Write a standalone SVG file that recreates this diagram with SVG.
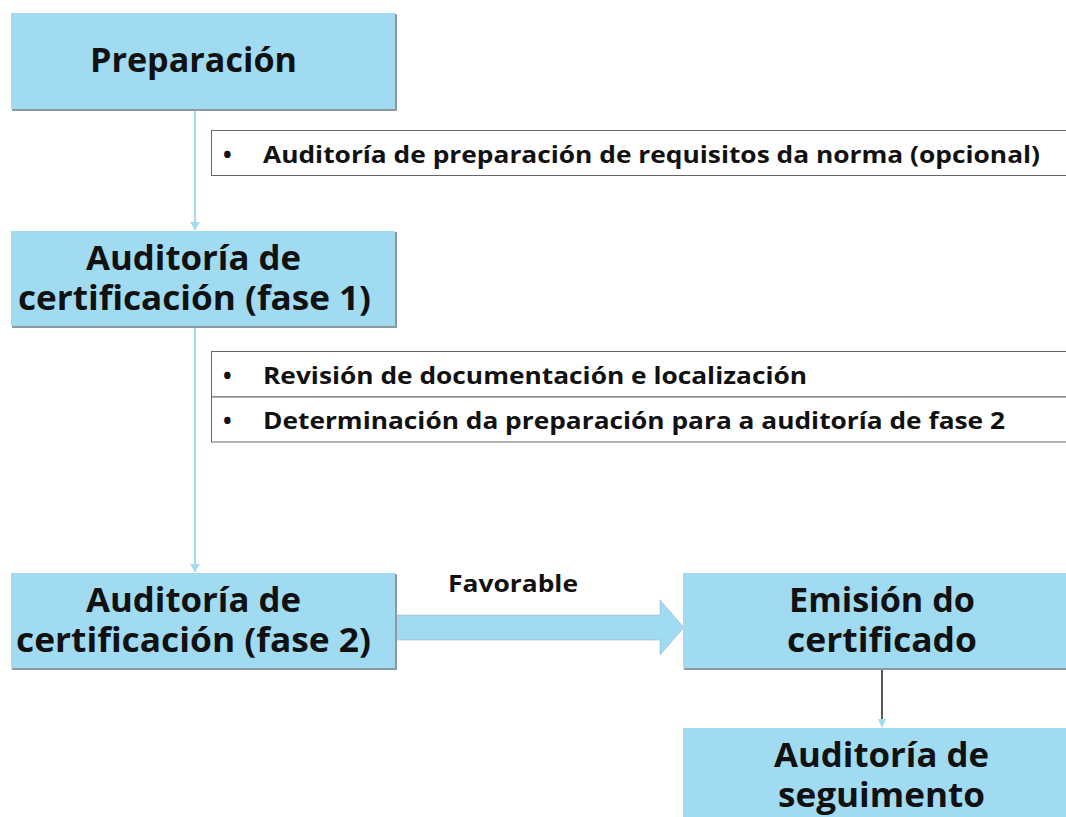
<svg xmlns="http://www.w3.org/2000/svg" width="1066" height="817" viewBox="0 0 1066 817">
<style>
.box{fill:#a0dbf1;}
.sh{fill:#8a9aa0;}
.t{font-family:"Open Sans","DejaVu Sans",sans-serif;font-weight:bold;font-size:34px;fill:#111;}
.b{font-family:"Open Sans","DejaVu Sans",sans-serif;font-weight:bold;font-size:23px;fill:#111;}
.note{fill:#fff;stroke:#666;stroke-width:1;}
.ln{stroke:#a0dbf1;stroke-width:2;fill:none;}
</style>
<defs>
<marker id="ah" markerWidth="10" markerHeight="10" refX="8" refY="5" orient="auto" markerUnits="userSpaceOnUse">
<path d="M0,0 L8,5 L0,10 Z" fill="#a0dbf1"/>
</marker>
</defs>
<g id="connectors">
<line class="ln" x1="195" y1="110" x2="195" y2="230" marker-end="url(#ah)"/>
<line class="ln" x1="195" y1="327" x2="195" y2="572" marker-end="url(#ah)"/>
<path d="M395,615 L660,615 L660,600 L684,627.5 L660,655 L660,640 L395,640 Z" fill="#a0dbf1" stroke="#9ab" stroke-width="0.5"/>
<line x1="882" y1="668" x2="882" y2="720" stroke="#222" stroke-width="1.5"/>
<path d="M878,719 L882,728 L886,719 Z" fill="#a0dbf1"/>
<text class="b" x="448" y="592" textLength="130" lengthAdjust="spacingAndGlyphs">Favorable</text>
</g>
<g id="n1">
<rect class="sh" x="12" y="14" width="385" height="97"/>
<rect class="box" x="11" y="13" width="384" height="96"/>
<text class="t" x="90" y="72" textLength="207" lengthAdjust="spacingAndGlyphs">Preparación</text>
</g>
<g id="note1">
<rect class="note" x="211.5" y="130.5" width="860" height="45"/>
<text class="b" x="223" y="163">•</text>
<text class="b" x="263" y="163" textLength="777" lengthAdjust="spacingAndGlyphs">Auditoría de preparación de requisitos da norma (opcional)</text>
</g>
<g id="n2">
<rect class="sh" x="12" y="232" width="385" height="96"/>
<rect class="box" x="11" y="231" width="384" height="95"/>
<text class="t" x="86" y="270" textLength="215" lengthAdjust="spacingAndGlyphs">Auditoría de</text>
<text class="t" x="18" y="310" textLength="353" lengthAdjust="spacingAndGlyphs">certificación (fase 1)</text>
</g>
<g id="note2">
<rect class="note" x="211.5" y="351.5" width="860" height="45.5"/>
<rect class="note" x="211.5" y="397" width="860" height="45"/>
<text class="b" x="223" y="384">•</text>
<text class="b" x="263" y="384" textLength="544" lengthAdjust="spacingAndGlyphs">Revisión de documentación e localización</text>
<text class="b" x="223" y="429">•</text>
<text class="b" x="263" y="429" textLength="742" lengthAdjust="spacingAndGlyphs">Determinación da preparación para a auditoría de fase 2</text>
</g>
<g id="n3">
<rect class="sh" x="12" y="574" width="385" height="96"/>
<rect class="box" x="11" y="573" width="384" height="95"/>
<text class="t" x="86" y="612" textLength="215" lengthAdjust="spacingAndGlyphs">Auditoría de</text>
<text class="t" x="16" y="652" textLength="355" lengthAdjust="spacingAndGlyphs">certificación (fase 2)</text>
</g>
<g id="n4">
<rect class="sh" x="684" y="574" width="385" height="96"/>
<rect class="box" x="683" y="573" width="384" height="95"/>
<text class="t" x="789" y="612" textLength="186" lengthAdjust="spacingAndGlyphs">Emisión do</text>
<text class="t" x="787" y="652" textLength="190" lengthAdjust="spacingAndGlyphs">certificado</text>
</g>
<g id="n5">
<rect class="sh" x="684" y="729" width="385" height="96"/>
<rect class="box" x="683" y="728" width="384" height="95"/>
<text class="t" x="774" y="767" textLength="215" lengthAdjust="spacingAndGlyphs">Auditoría de</text>
<text class="t" x="778" y="807" textLength="207" lengthAdjust="spacingAndGlyphs">seguimento</text>
</g>
</svg>
